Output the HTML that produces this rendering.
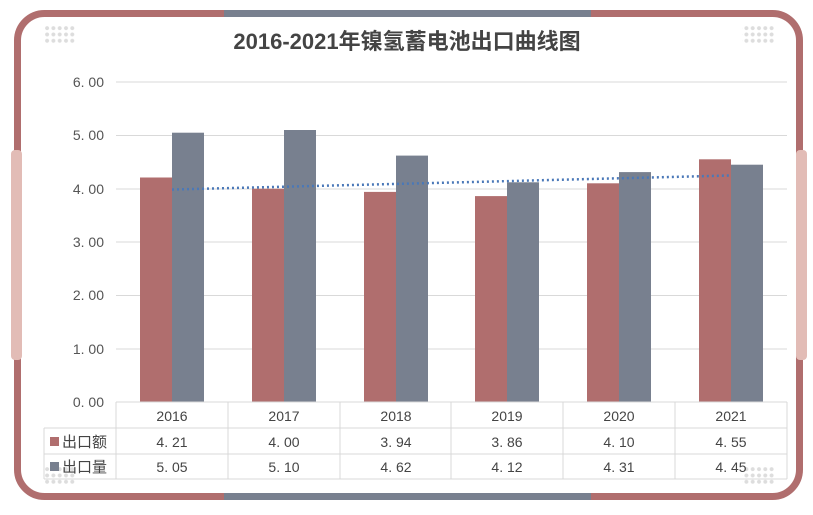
<!DOCTYPE html>
<html><head><meta charset="utf-8"><style>
body{margin:0;background:#fff;}
svg{display:block;font-family:"Liberation Sans","Noto Sans CJK SC",sans-serif;}
</style></head><body>
<svg width="813" height="515" viewBox="0 0 813 515" xmlns="http://www.w3.org/2000/svg">
<defs>
<clipPath id="top"><rect x="0" y="0" width="224" height="515"/></clipPath>
<clipPath id="mid"><rect x="224" y="0" width="367" height="515"/></clipPath>
<clipPath id="rt"><rect x="591" y="0" width="222" height="515"/></clipPath>
<pattern id="dots" width="6.3" height="6.3" patternUnits="userSpaceOnUse"><circle cx="3" cy="3" r="2" fill="#ddd"/></pattern>
</defs>
<g fill="none" stroke-width="7">
<rect x="17.5" y="13.5" width="782" height="483" rx="27" stroke="#b06e6e" clip-path="url(#top)"/>
<rect x="17.5" y="13.5" width="782" height="483" rx="27" stroke="#78808f" clip-path="url(#mid)"/>
<rect x="17.5" y="13.5" width="782" height="483" rx="27" stroke="#b06e6e" clip-path="url(#rt)"/>
</g>
<rect x="11" y="150" width="11" height="210" rx="4" fill="#e2bcb6"/>
<rect x="796" y="150" width="11" height="210" rx="4" fill="#e2bcb6"/>
<rect x="43" y="25" width="32" height="19" fill="url(#dots)"/>
<rect x="742" y="25" width="32" height="19" fill="url(#dots)"/>
<rect x="43" y="465" width="32" height="19" fill="url(#dots)"/>
<rect x="742" y="465" width="32" height="19" fill="url(#dots)"/>
<text x="407" y="49" text-anchor="middle" font-size="22" font-weight="bold" fill="#444">2016-2021年镍氢蓄电池出口曲线图</text>
<g stroke="#d9d9d9" stroke-width="1">
<line x1="116" y1="82" x2="787" y2="82"/><line x1="116" y1="135.5" x2="787" y2="135.5"/>
<line x1="116" y1="189" x2="787" y2="189"/><line x1="116" y1="242" x2="787" y2="242"/>
<line x1="116" y1="295.5" x2="787" y2="295.5"/><line x1="116" y1="349" x2="787" y2="349"/>
</g>
<g font-size="14" fill="#555" text-anchor="end">
<text x="104" y="87">6. 00</text><text x="104" y="140">5. 00</text><text x="104" y="194">4. 00</text>
<text x="104" y="247">3. 00</text><text x="104" y="300">2. 00</text><text x="104" y="354">1. 00</text><text x="104" y="407">0. 00</text>
</g>
<g fill="#b06e6e">
<rect x="140" y="177.5" width="32" height="224.5"/><rect x="252" y="188.7" width="32" height="213.3"/>
<rect x="364" y="191.9" width="32" height="210.1"/><rect x="475" y="196.1" width="32" height="205.9"/>
<rect x="587" y="183.3" width="32" height="218.7"/><rect x="699" y="159.3" width="32" height="242.7"/>
</g>
<g fill="#78808f">
<rect x="172" y="132.7" width="32" height="269.3"/><rect x="284" y="130" width="32" height="272"/>
<rect x="396" y="155.6" width="32" height="246.4"/><rect x="507" y="182.3" width="32" height="219.7"/>
<rect x="619" y="172.1" width="32" height="229.9"/><rect x="731" y="164.7" width="32" height="237.3"/>
</g>
<line x1="172" y1="189.5" x2="731" y2="175.5" stroke="#4a78b8" stroke-width="2.5" stroke-dasharray="2 3"/>
<g stroke="#d9d9d9" stroke-width="1" fill="none">
<line x1="116" y1="402" x2="787" y2="402"/>
<line x1="44" y1="428" x2="787" y2="428"/><line x1="44" y1="454" x2="787" y2="454"/><line x1="44" y1="479" x2="787" y2="479"/>
<line x1="44" y1="428" x2="44" y2="479"/><line x1="116" y1="402" x2="116" y2="479"/>
<line x1="228" y1="402" x2="228" y2="479"/><line x1="340" y1="402" x2="340" y2="479"/>
<line x1="451" y1="402" x2="451" y2="479"/><line x1="563" y1="402" x2="563" y2="479"/>
<line x1="675" y1="402" x2="675" y2="479"/><line x1="787" y1="402" x2="787" y2="479"/>
</g>
<g font-size="14" fill="#444" text-anchor="middle">
<text x="172" y="421">2016</text><text x="284" y="421">2017</text><text x="396" y="421">2018</text>
<text x="507" y="421">2019</text><text x="619" y="421">2020</text><text x="731" y="421">2021</text>
<text x="172" y="447">4. 21</text><text x="284" y="447">4. 00</text><text x="396" y="447">3. 94</text>
<text x="507" y="447">3. 86</text><text x="619" y="447">4. 10</text><text x="731" y="447">4. 55</text>
<text x="172" y="472">5. 05</text><text x="284" y="472">5. 10</text><text x="396" y="472">4. 62</text>
<text x="507" y="472">4. 12</text><text x="619" y="472">4. 31</text><text x="731" y="472">4. 45</text>
</g>
<rect x="50" y="437" width="9" height="9" fill="#b06e6e"/>
<rect x="50" y="462" width="9" height="9" fill="#78808f"/>
<text x="62" y="447" font-size="15" fill="#444">出口额</text>
<text x="62" y="472" font-size="15" fill="#444">出口量</text>
</svg>
</body></html>
